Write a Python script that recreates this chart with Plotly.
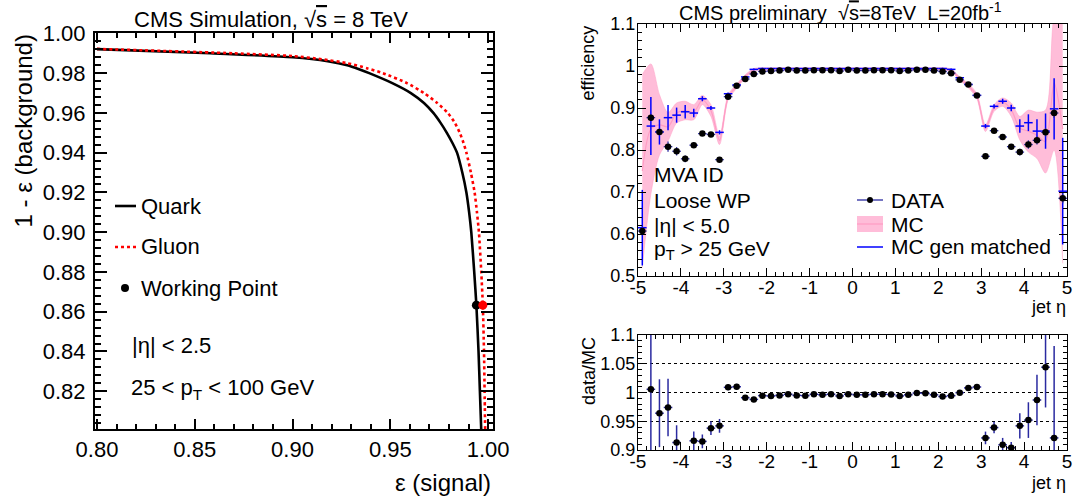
import plotly.graph_objects as go

W, H = 1073, 501
FONT = "Liberation Sans"

# ---------------- left panel: background rejection vs signal efficiency ----------------
quark_eff = [0.800, 0.858, 0.900, 0.918, 0.928, 0.934, 0.9392, 0.9510, 0.9605, 0.9672, 0.9720,
             0.9757, 0.9789, 0.9817, 0.9841, 0.9868, 0.9889, 0.9903, 0.9914, 0.9929, 0.9940,
             0.9951, 0.9958, 0.9965]
quark_rej = [0.9921, 0.9900, 0.9880, 0.9860, 0.9840, 0.9820, 0.9800, 0.9750, 0.9700, 0.9650, 0.9600,
             0.9550, 0.9500, 0.9450, 0.9400, 0.9300, 0.9200, 0.9100, 0.9000, 0.8800, 0.8633,
             0.8400, 0.8200, 0.8000]
gluon_eff = [0.800, 0.870, 0.900, 0.915, 0.928, 0.938, 0.9462, 0.9585, 0.9672, 0.9740, 0.9794,
             0.9830, 0.9855, 0.9874, 0.9889, 0.9912, 0.9931, 0.9943, 0.9953, 0.9965, 0.9973,
             0.9979, 0.9982, 0.9985]
gluon_rej = [0.9922, 0.9900, 0.9886, 0.9870, 0.9850, 0.9825, 0.9800, 0.9750, 0.9700, 0.9650, 0.9600,
             0.9550, 0.9500, 0.9450, 0.9400, 0.9300, 0.9200, 0.9100, 0.9000, 0.8800, 0.8633,
             0.8400, 0.8200, 0.8000]
wp_eff = [0.9940, 0.9973]
wp_rej = [0.8633, 0.8633]
wp_colors = ["black", "red"]

# ---------------- right panels: jet id efficiency vs eta ----------------
eta = [-4.9, -4.7, -4.5, -4.3, -4.1, -3.9, -3.7, -3.5, -3.3, -3.1,
       -2.9, -2.7, -2.5, -2.3, -2.1, -1.9, -1.7, -1.5, -1.3, -1.1,
       -0.9, -0.7, -0.5, -0.3, -0.1, 0.1, 0.3, 0.5, 0.7, 0.9,
       1.1, 1.3, 1.5, 1.7, 1.9, 2.1, 2.3, 2.5, 2.7, 2.9,
       3.1, 3.3, 3.5, 3.7, 3.9, 4.1, 4.3, 4.5, 4.7, 4.9]
bin_half = 0.1

data_eff = [0.607, 0.877, 0.843, 0.808, 0.797, 0.779, 0.8115, 0.839, 0.837, 0.777,
            0.927, 0.953, 0.969, 0.981, 0.987, 0.988, 0.989, 0.991, 0.989, 0.989,
            0.990, 0.990, 0.990, 0.988, 0.991, 0.989, 0.989, 0.990, 0.990, 0.990,
            0.988, 0.989, 0.991, 0.991, 0.989, 0.987, 0.983, 0.967, 0.956, 0.930,
            0.785, 0.846, 0.831, 0.808, 0.795, 0.813, 0.823, 0.842, 0.888, 0.685]
data_err = [0.010, 0.008, 0.008, 0.012, 0.010, 0.008, 0.006, 0.005, 0.005, 0.004,
            0.003, 0.003, 0.003, 0.003, 0.003, 0.003, 0.003, 0.003, 0.003, 0.003,
            0.003, 0.003, 0.003, 0.003, 0.003, 0.003, 0.003, 0.003, 0.003, 0.003,
            0.003, 0.003, 0.003, 0.003, 0.003, 0.003, 0.003, 0.003, 0.003, 0.003,
            0.004, 0.005, 0.005, 0.006, 0.008, 0.010, 0.010, 0.010, 0.012, 0.012]

mc_eff = [0.750, 0.850, 0.860, 0.855, 0.888, 0.894, 0.890, 0.919, 0.894, 0.823,
          0.925, 0.952, 0.975, 0.991, 0.993, 0.993, 0.993, 0.993, 0.993, 0.993,
          0.993, 0.993, 0.993, 0.993, 0.993, 0.993, 0.993, 0.993, 0.993, 0.993,
          0.993, 0.993, 0.993, 0.993, 0.993, 0.993, 0.990, 0.970, 0.953, 0.928,
          0.852, 0.900, 0.914, 0.896, 0.852, 0.845, 0.835, 0.820, 0.960, 0.850]
mc_err = [0.230, 0.155, 0.072, 0.034, 0.024, 0.022, 0.018, 0.011, 0.014, 0.010,
          0.006, 0.005, 0.004, 0.003, 0.003, 0.003, 0.003, 0.003, 0.003, 0.003,
          0.003, 0.003, 0.003, 0.003, 0.003, 0.003, 0.003, 0.003, 0.003, 0.003,
          0.003, 0.003, 0.003, 0.003, 0.003, 0.003, 0.003, 0.004, 0.005, 0.006,
          0.008, 0.008, 0.010, 0.016, 0.028, 0.050, 0.055, 0.075, 0.160, 0.320]

gen_eff = [0.615, 0.857, 0.843, 0.877, 0.883, 0.891, 0.888, 0.922, 0.900, 0.842,
           0.934, 0.955, 0.974, 0.992, 0.994, 0.994, 0.994, 0.994, 0.994, 0.994,
           0.994, 0.994, 0.994, 0.994, 0.994, 0.994, 0.994, 0.994, 0.994, 0.994,
           0.994, 0.994, 0.994, 0.994, 0.994, 0.994, 0.992, 0.972, 0.956, 0.930,
           0.857, 0.904, 0.916, 0.900, 0.857, 0.865, 0.845, 0.845, 0.898, 0.702]
gen_err = [0.090, 0.069, 0.030, 0.030, 0.018, 0.016, 0.010, 0.006, 0.005, 0.005,
           0.003, 0.003, 0.002, 0.002, 0.002, 0.002, 0.002, 0.002, 0.002, 0.002,
           0.002, 0.002, 0.002, 0.002, 0.002, 0.002, 0.002, 0.002, 0.002, 0.002,
           0.002, 0.002, 0.002, 0.002, 0.002, 0.002, 0.002, 0.002, 0.003, 0.003,
           0.005, 0.005, 0.006, 0.008, 0.016, 0.020, 0.028, 0.042, 0.073, 0.127]

ratio = [0.810, 1.0056, 0.964, 0.974, 0.913, 0.871, 0.916, 0.915, 0.938, 0.942,
         1.009, 1.010, 0.991, 0.988, 0.9945, 0.994, 0.995, 0.997, 0.995, 0.9945,
         0.997, 0.996, 0.997, 0.994, 0.997, 0.996, 0.996, 0.997, 0.997, 0.9965,
         0.994, 0.996, 0.999, 0.9985, 0.996, 0.993, 0.9945, 0.9997, 1.008, 1.0096,
         0.921, 0.939, 0.909, 0.904, 0.942, 0.952, 0.987, 1.044, 0.921, 0.800]
ratio_err = [0.050, 0.200, 0.059, 0.050, 0.030, 0.015, 0.016, 0.012, 0.012, 0.012,
             0.005, 0.005, 0.003, 0.003, 0.003, 0.003, 0.003, 0.003, 0.003, 0.003,
             0.003, 0.003, 0.003, 0.003, 0.003, 0.003, 0.003, 0.003, 0.003, 0.003,
             0.003, 0.003, 0.003, 0.003, 0.003, 0.003, 0.003, 0.003, 0.005, 0.005,
             0.011, 0.010, 0.012, 0.010, 0.022, 0.031, 0.044, 0.070, 0.160, 0.050]

eta_ticks = [-5, -4, -3, -2, -1, 0, 1, 2, 3, 4, 5]
eta_ticktext = ["-5", "-4", "-3", "-2", "-1", "0", "1", "2", "3", "4", "5"]
eff_ticks = [0.5, 0.6, 0.7, 0.8, 0.9, 1.0, 1.1]
eff_ticktext = ["0.5", "0.6", "0.7", "0.8", "0.9", "1", "1.1"]
ratio_ticks = [0.9, 0.95, 1.0, 1.05, 1.1]
ratio_ticktext = ["0.9", "0.95", "1", "1.05", "1.1"]

NAVY = "#2a2aa0"
BLUE = "#0000ff"
PINK_FILL = "rgba(255,178,210,0.85)"
PINK_LINE = "#ff9cc4"

fig = go.Figure()

# left panel curves
fig.add_trace(go.Scatter(x=quark_eff, y=quark_rej, mode="lines",
                         line=dict(color="black", width=2.6, shape="spline", smoothing=0.6),
                         xaxis="x", yaxis="y", showlegend=False))
fig.add_trace(go.Scatter(x=gluon_eff, y=gluon_rej, mode="lines",
                         line=dict(color="red", width=2.6, dash="dot", shape="spline", smoothing=0.6),
                         xaxis="x", yaxis="y", showlegend=False))
fig.add_trace(go.Scatter(x=wp_eff, y=wp_rej, mode="markers",
                         marker=dict(color=wp_colors, size=9),
                         xaxis="x", yaxis="y", showlegend=False))

# MC band
mc_lo = [v - e for v, e in zip(mc_eff, mc_err)]
mc_hi = [v + e for v, e in zip(mc_eff, mc_err)]
fig.add_trace(go.Scatter(x=eta, y=mc_lo, mode="lines",
                         line=dict(color=PINK_LINE, width=0.5, shape="spline", smoothing=0.8),
                         xaxis="x2", yaxis="y2", showlegend=False))
fig.add_trace(go.Scatter(x=eta, y=mc_hi, mode="lines", fill="tonexty", fillcolor=PINK_FILL,
                         line=dict(color=PINK_LINE, width=0.5, shape="spline", smoothing=0.8),
                         xaxis="x2", yaxis="y2", showlegend=False))
fig.add_trace(go.Scatter(x=eta, y=mc_eff, mode="lines",
                         line=dict(color=PINK_LINE, width=1.2, shape="spline", smoothing=0.8),
                         xaxis="x2", yaxis="y2", showlegend=False))

# MC gen matched crosses
fig.add_trace(go.Scatter(x=eta, y=gen_eff, mode="markers",
                         marker=dict(size=1, color=BLUE, opacity=0),
                         error_x=dict(type="constant", value=bin_half, width=0, thickness=1.5, color=BLUE),
                         error_y=dict(type="data", array=gen_err, width=0, thickness=1.5, color=BLUE),
                         xaxis="x2", yaxis="y2", showlegend=False))

# data points
fig.add_trace(go.Scatter(x=eta, y=data_eff, mode="markers",
                         marker=dict(size=6.5, color="black"),
                         error_x=dict(type="constant", value=bin_half, width=0, thickness=1.3, color=NAVY),
                         error_y=dict(type="data", array=data_err, width=0, thickness=1.3, color=NAVY),
                         xaxis="x2", yaxis="y2", showlegend=False))

# ratio points
fig.add_trace(go.Scatter(x=eta, y=ratio, mode="markers",
                         marker=dict(size=6.5, color="black"),
                         error_x=dict(type="constant", value=bin_half, width=0, thickness=1.5, color=NAVY),
                         error_y=dict(type="data", array=ratio_err, width=0, thickness=1.5, color=NAVY),
                         xaxis="x3", yaxis="y3", showlegend=False))

# empty traces that activate the minor-tick overlay axes
for xa, ya in [("x4", "y"), ("x", "y4"), ("x5", "y2"), ("x2", "y5"), ("x6", "y3"), ("x3", "y6")]:
    fig.add_trace(go.Scatter(x=[], y=[], xaxis=xa, yaxis=ya, showlegend=False, hoverinfo="skip"))


def px(x):
    return x / W


def py(y):
    return 1 - y / H


left_dom_x = [px(95), px(493)]
left_dom_y = [py(429), py(33)]
right_dom_x = [px(638), px(1067)]
top_dom_y = [py(276), py(24)]
bot_dom_y = [py(450), py(335)]

base = dict(showline=True, linecolor="black", mirror="ticks", ticks="inside",
            tickcolor="black", zeroline=False, automargin=False, showgrid=False)


def minor_axis(over, anchor, rng, tick0, dtick, length, width, side, line_w):
    return dict(overlaying=over, anchor=anchor, range=rng, tickmode="linear", tick0=tick0, dtick=dtick,
                ticklen=length, tickwidth=width, showticklabels=False, side=side, linewidth=line_w,
                **base)


left_xr = [0.799, 1.0025]
left_yr = [0.801, 1.0002]

fig.update_layout(
    width=W, height=H, margin=dict(l=0, r=0, t=0, b=0, autoexpand=False),
    paper_bgcolor="white", plot_bgcolor="white",
    font=dict(family=FONT, color="black"),
    xaxis=dict(domain=left_dom_x, anchor="y", range=left_xr,
               tickmode="linear", tick0=0.8, dtick=0.05, tickformat=".2f", ticklen=10, tickwidth=2, linewidth=2,
               tickfont=dict(size=22, family=FONT), **base),
    yaxis=dict(domain=left_dom_y, anchor="x", range=left_yr,
               tickmode="linear", tick0=0.8, dtick=0.02, tickformat=".2f", ticklen=12, tickwidth=2, linewidth=2,
               tickfont=dict(size=22, family=FONT), ticklabelstandoff=3, **base),
    xaxis2=dict(domain=right_dom_x, anchor="y2", range=[-5, 5],
                tickmode="array", tickvals=eta_ticks, ticktext=eta_ticktext,
                ticklen=8, tickwidth=1, linewidth=1.2, tickfont=dict(size=19, family=FONT),
                ticklabelstandoff=-6, **base),
    yaxis2=dict(domain=top_dom_y, anchor="x2", range=[0.5, 1.1],
                tickmode="array", tickvals=eff_ticks, ticktext=eff_ticktext,
                ticklen=8, tickwidth=1, linewidth=1.2, tickfont=dict(size=18, family=FONT),
                ticklabelstandoff=-2, **base),
    xaxis3=dict(domain=right_dom_x, anchor="y3", range=[-5, 5],
                tickmode="array", tickvals=eta_ticks, ticktext=eta_ticktext,
                ticklen=8, tickwidth=1, linewidth=1.2, tickfont=dict(size=19, family=FONT),
                ticklabelstandoff=-6, **base),
    yaxis3=dict(domain=bot_dom_y, anchor="x3", range=[0.9, 1.1],
                tickmode="array", tickvals=ratio_ticks, ticktext=ratio_ticktext,
                ticklen=8, tickwidth=1, linewidth=1.2, tickfont=dict(size=18, family=FONT),
                ticklabelstandoff=-2,
                showline=True, linecolor="black", mirror="ticks", ticks="inside", tickcolor="black",
                zeroline=False, automargin=False,
                showgrid=True, gridcolor="black", griddash="dot", gridwidth=1),
    xaxis4=minor_axis("x", "y", left_xr, 0.8, 0.01, 5, 1.5, "bottom", 2),
    yaxis4=minor_axis("y", "x", left_yr, 0.8, 0.004, 6, 1.5, "left", 2),
    xaxis5=minor_axis("x2", "y2", [-5, 5], -5, 0.2, 4, 1, "bottom", 1.2),
    yaxis5=minor_axis("y2", "x2", [0.5, 1.1], 0.5, 0.02, 4, 1, "left", 1.2),
    xaxis6=minor_axis("x3", "y3", [-5, 5], -5, 0.2, 4, 1, "bottom", 1.2),
    yaxis6=minor_axis("y3", "x3", [0.9, 1.1], 0.9, 0.01, 4, 1, "left", 1.2),
)


def note(text, x, y, size, xanchor="left", yanchor="middle", angle=0):
    fig.add_annotation(text=text, x=px(x), y=py(y), xref="paper", yref="paper",
                       xanchor=xanchor, yanchor=yanchor, showarrow=False, textangle=angle,
                       font=dict(size=size, family=FONT, color="black"))


OVER_S = "<span style='text-decoration:overline'>s</span>"

# left panel texts
note("CMS Simulation, √" + OVER_S + " = 8 TeV", 271, 19, 22, xanchor="center")
note("1 - ε (background)", 23, 33, 24, xanchor="center", yanchor="top", angle=-90)
note("ε (signal)", 493, 482, 24, xanchor="right")
note("Quark", 139, 206, 22)
note("Gluon", 139, 247, 22)
note("Working Point", 139, 288, 22)
note("|η| < 2.5", 130, 345, 22)
note("25 < p<sub>T</sub> < 100 GeV", 129, 389, 22)

# right panel texts
note("CMS preliminary  √" + OVER_S + "=8TeV  L=20fb<sup>-1</sup>", 840, 12, 20, xanchor="center")
note("efficiency", 587, 24, 18, xanchor="center", yanchor="top", angle=-90)
note("data/MC", 589, 335, 18, xanchor="center", yanchor="top", angle=-90)
note("jet η", 1068, 307, 18, xanchor="right")
note("jet η", 1068, 483, 18, xanchor="right")
note("MVA ID", 652, 174, 21)
note("Loose WP", 652, 200, 21)
note("|η| < 5.0", 652, 226, 21)
note("p<sub>T</sub> > 25 GeV", 652, 250, 21)
note("DATA", 889, 200, 21)
note("MC", 889, 224, 21)
note("MC gen matched", 889, 247, 21)

# legend samples
shapes = [
    dict(type="line", x0=px(115), x1=px(136), y0=py(206), y1=py(206), line=dict(color="black", width=2.6)),
    dict(type="line", x0=px(115), x1=px(136), y0=py(247), y1=py(247), line=dict(color="red", width=2.6, dash="dot")),
    dict(type="circle", x0=px(121), x1=px(129), y0=py(292), y1=py(284), fillcolor="black", line=dict(color="black", width=0)),
    dict(type="line", x0=px(857), x1=px(883), y0=py(200), y1=py(200), line=dict(color=NAVY, width=1.3)),
    dict(type="circle", x0=px(867), x1=px(873), y0=py(203), y1=py(197), fillcolor="black", line=dict(color="black", width=0)),
    dict(type="rect", x0=px(857), x1=px(883), y0=py(232), y1=py(216), fillcolor=PINK_FILL, line=dict(width=0)),
    dict(type="line", x0=px(857), x1=px(883), y0=py(224), y1=py(224), line=dict(color=PINK_LINE, width=1.2)),
    dict(type="line", x0=px(857), x1=px(883), y0=py(247), y1=py(247), line=dict(color=BLUE, width=1.5)),
]
for s in shapes:
    s.update(xref="paper", yref="paper")
    fig.add_shape(**s)

fig.write_html("out.html")
